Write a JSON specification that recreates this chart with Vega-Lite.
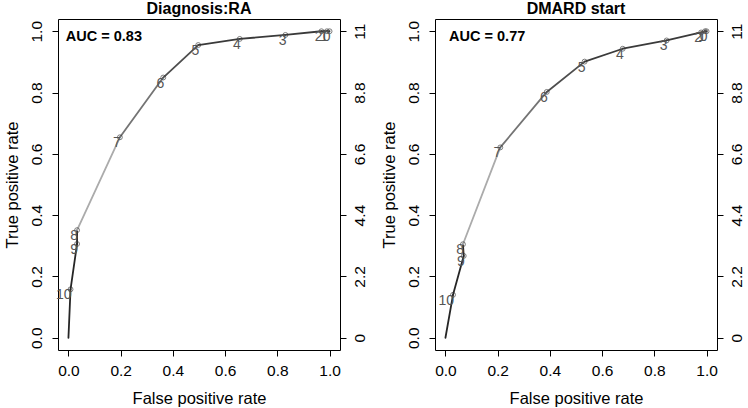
{
  "$schema": "https://vega.github.io/schema/vega-lite/v6.json",
  "padding": {"left": 3, "top": 0, "right": 0, "bottom": 0},
  "spacing": 12,
  "config": {
    "font": "Liberation Sans",
    "view": {"stroke": "black", "strokeWidth": 1},
    "axis": {"grid": false, "domain": false, "tickColor": "black", "tickSize": 6, "labelColor": "black", "titleColor": "black", "titleFontWeight": "normal", "labelFontSize": 15.5, "titleFontSize": 16.5, "labelFont": "Liberation Sans", "titleFont": "Liberation Sans"},
    "title": {"font": "Liberation Sans", "fontSize": 16, "fontWeight": "bold", "color": "black", "offset": 2}
  },
  "datasets": {
    "pts": [
      {"panel": "Diagnosis:RA", "fpr": 0.008, "tpr": 0.158, "cut": "10"},
      {"panel": "Diagnosis:RA", "fpr": 0.033, "tpr": 0.306, "cut": "9"},
      {"panel": "Diagnosis:RA", "fpr": 0.033, "tpr": 0.351, "cut": "8"},
      {"panel": "Diagnosis:RA", "fpr": 0.197, "tpr": 0.654, "cut": "7"},
      {"panel": "Diagnosis:RA", "fpr": 0.363, "tpr": 0.849, "cut": "6"},
      {"panel": "Diagnosis:RA", "fpr": 0.497, "tpr": 0.955, "cut": "5"},
      {"panel": "Diagnosis:RA", "fpr": 0.656, "tpr": 0.975, "cut": "4"},
      {"panel": "Diagnosis:RA", "fpr": 0.831, "tpr": 0.988, "cut": "3"},
      {"panel": "Diagnosis:RA", "fpr": 0.969, "tpr": 1.0, "cut": "2"},
      {"panel": "Diagnosis:RA", "fpr": 0.99, "tpr": 1.0, "cut": "1"},
      {"panel": "Diagnosis:RA", "fpr": 1.0, "tpr": 1.0, "cut": "0"},
      {"panel": "DMARD start", "fpr": 0.029, "tpr": 0.14, "cut": "10"},
      {"panel": "DMARD start", "fpr": 0.07, "tpr": 0.267, "cut": "9"},
      {"panel": "DMARD start", "fpr": 0.067, "tpr": 0.305, "cut": "8"},
      {"panel": "DMARD start", "fpr": 0.21, "tpr": 0.621, "cut": "7"},
      {"panel": "DMARD start", "fpr": 0.388, "tpr": 0.802, "cut": "6"},
      {"panel": "DMARD start", "fpr": 0.533, "tpr": 0.901, "cut": "5"},
      {"panel": "DMARD start", "fpr": 0.679, "tpr": 0.943, "cut": "4"},
      {"panel": "DMARD start", "fpr": 0.847, "tpr": 0.97, "cut": "3"},
      {"panel": "DMARD start", "fpr": 0.979, "tpr": 0.996, "cut": "2"},
      {"panel": "DMARD start", "fpr": 0.994, "tpr": 1.0, "cut": "1"},
      {"panel": "DMARD start", "fpr": 1.0, "tpr": 1.0, "cut": "0"}
    ],
    "segs": [
      {"panel": "Diagnosis:RA", "fpr": 0.0, "tpr": 0.0, "fpr2": 0.008, "tpr2": 0.158, "cut": 10.5},
      {"panel": "Diagnosis:RA", "fpr": 0.008, "tpr": 0.158, "fpr2": 0.033, "tpr2": 0.306, "cut": 9.5},
      {"panel": "Diagnosis:RA", "fpr": 0.033, "tpr": 0.306, "fpr2": 0.033, "tpr2": 0.351, "cut": 8.5},
      {"panel": "Diagnosis:RA", "fpr": 0.033, "tpr": 0.351, "fpr2": 0.197, "tpr2": 0.654, "cut": 7.5},
      {"panel": "Diagnosis:RA", "fpr": 0.197, "tpr": 0.654, "fpr2": 0.363, "tpr2": 0.849, "cut": 6.5},
      {"panel": "Diagnosis:RA", "fpr": 0.363, "tpr": 0.849, "fpr2": 0.497, "tpr2": 0.955, "cut": 5.5},
      {"panel": "Diagnosis:RA", "fpr": 0.497, "tpr": 0.955, "fpr2": 0.656, "tpr2": 0.975, "cut": 4.5},
      {"panel": "Diagnosis:RA", "fpr": 0.656, "tpr": 0.975, "fpr2": 0.831, "tpr2": 0.988, "cut": 3.5},
      {"panel": "Diagnosis:RA", "fpr": 0.831, "tpr": 0.988, "fpr2": 0.969, "tpr2": 1.0, "cut": 2.5},
      {"panel": "Diagnosis:RA", "fpr": 0.969, "tpr": 1.0, "fpr2": 0.99, "tpr2": 1.0, "cut": 1.5},
      {"panel": "Diagnosis:RA", "fpr": 0.99, "tpr": 1.0, "fpr2": 1.0, "tpr2": 1.0, "cut": 0.5},
      {"panel": "DMARD start", "fpr": 0.0, "tpr": 0.0, "fpr2": 0.029, "tpr2": 0.14, "cut": 10.5},
      {"panel": "DMARD start", "fpr": 0.029, "tpr": 0.14, "fpr2": 0.07, "tpr2": 0.267, "cut": 9.5},
      {"panel": "DMARD start", "fpr": 0.07, "tpr": 0.267, "fpr2": 0.067, "tpr2": 0.305, "cut": 8.5},
      {"panel": "DMARD start", "fpr": 0.067, "tpr": 0.305, "fpr2": 0.21, "tpr2": 0.621, "cut": 7.5},
      {"panel": "DMARD start", "fpr": 0.21, "tpr": 0.621, "fpr2": 0.388, "tpr2": 0.802, "cut": 6.5},
      {"panel": "DMARD start", "fpr": 0.388, "tpr": 0.802, "fpr2": 0.533, "tpr2": 0.901, "cut": 5.5},
      {"panel": "DMARD start", "fpr": 0.533, "tpr": 0.901, "fpr2": 0.679, "tpr2": 0.943, "cut": 4.5},
      {"panel": "DMARD start", "fpr": 0.679, "tpr": 0.943, "fpr2": 0.847, "tpr2": 0.97, "cut": 3.5},
      {"panel": "DMARD start", "fpr": 0.847, "tpr": 0.97, "fpr2": 0.979, "tpr2": 0.996, "cut": 2.5},
      {"panel": "DMARD start", "fpr": 0.979, "tpr": 0.996, "fpr2": 0.994, "tpr2": 1.0, "cut": 1.5},
      {"panel": "DMARD start", "fpr": 0.994, "tpr": 1.0, "fpr2": 1.0, "tpr2": 1.0, "cut": 0.5}
    ],
    "auc": [
      {"panel": "Diagnosis:RA", "label": "AUC = 0.83"},
      {"panel": "DMARD start", "label": "AUC = 0.77"}
    ]
  },
  "hconcat": [
    {
      "title": "Diagnosis:RA",
      "width": 282,
      "height": 331,
      "resolve": {"scale": {"y": "independent"}, "axis": {"y": "independent"}},
      "layer": [
        {
          "layer": [
            {
              "data": {"name": "segs"},
              "transform": [{"filter": "datum.panel === 'Diagnosis:RA'"}],
              "mark": {"type": "rule", "strokeWidth": 1.8, "strokeCap": "round"},
              "encoding": {
                "x": {"field": "fpr", "type": "quantitative", "scale": {"domain": [-0.04, 1.04], "nice": false, "zero": false}, "axis": {"values": [0, 0.2, 0.4, 0.6, 0.8, 1.0], "format": ".1f", "title": "False positive rate", "labelPadding": 7, "titlePadding": 12}},
                "y": {"field": "tpr", "type": "quantitative", "scale": {"domain": [-0.04, 1.04], "nice": false, "zero": false}, "axis": {"values": [0, 0.2, 0.4, 0.6, 0.8, 1.0], "format": ".1f", "title": "True positive rate", "labelAngle": -90, "labelAlign": "center", "labelBaseline": "bottom", "labelPadding": 8, "titlePadding": 9}},
                "x2": {"field": "fpr2"},
                "y2": {"field": "tpr2"},
                "color": {"field": "cut", "type": "quantitative", "legend": null, "scale": {"type": "linear", "domain": [0.5, 4.5, 5.5, 6.5, 7.5, 8.5, 10.5], "range": ["#3a3a3a", "#3a3a3a", "#4e4e4e", "#747474", "#ababab", "#262626", "#262626"]}}
              }
            },
            {
              "data": {"name": "pts"},
              "transform": [{"filter": "datum.panel === 'Diagnosis:RA'"}],
              "mark": {"type": "point", "shape": "circle", "filled": false, "size": 24, "strokeWidth": 0.9, "color": "#333"},
              "encoding": {
                "x": {"field": "fpr", "type": "quantitative"},
                "y": {"field": "tpr", "type": "quantitative"}
              }
            },
            {
              "data": {"name": "pts"},
              "transform": [{"filter": "datum.panel === 'Diagnosis:RA'"}],
              "mark": {"type": "text", "align": "right", "baseline": "top", "dx": 1, "dy": -1, "fontSize": 14, "color": "#555"},
              "encoding": {
                "x": {"field": "fpr", "type": "quantitative"},
                "y": {"field": "tpr", "type": "quantitative"},
                "text": {"field": "cut"}
              }
            },
            {
              "data": {"name": "auc"},
              "transform": [{"filter": "datum.panel === 'Diagnosis:RA'"}],
              "mark": {"type": "text", "align": "left", "baseline": "middle", "fontSize": 14.5, "fontWeight": "bold", "color": "black"},
              "encoding": {
                "x": {"datum": -0.01, "type": "quantitative"},
                "y": {"datum": 0.981, "type": "quantitative"},
                "text": {"field": "label"}
              }
            }
          ]
        },
        {
          "mark": {"type": "rule", "strokeWidth": 3, "color": "#2a2a2a"},
          "encoding": {
            "x": {"datum": 1.035, "type": "quantitative"},
            "y": {"datum": 0, "type": "quantitative", "scale": {"domain": [-0.44, 11.44], "nice": false, "zero": false}, "axis": {"orient": "right", "values": [0, 2.2, 4.4, 6.6, 8.8, 11], "labelExpr": "datum.value == 0 ? '0' : (datum.value == 11 ? '11' : format(datum.value, '.1f'))", "title": null, "labelAngle": -90, "labelAlign": "center", "labelBaseline": "top", "labelPadding": 6}},
            "y2": {"datum": 11}
          }
        }
      ]
    },
    {
      "title": "DMARD start",
      "width": 282,
      "height": 331,
      "resolve": {"scale": {"y": "independent"}, "axis": {"y": "independent"}},
      "layer": [
        {
          "layer": [
            {
              "data": {"name": "segs"},
              "transform": [{"filter": "datum.panel === 'DMARD start'"}],
              "mark": {"type": "rule", "strokeWidth": 1.8, "strokeCap": "round"},
              "encoding": {
                "x": {"field": "fpr", "type": "quantitative", "scale": {"domain": [-0.04, 1.04], "nice": false, "zero": false}, "axis": {"values": [0, 0.2, 0.4, 0.6, 0.8, 1.0], "format": ".1f", "title": "False positive rate", "labelPadding": 7, "titlePadding": 12}},
                "y": {"field": "tpr", "type": "quantitative", "scale": {"domain": [-0.04, 1.04], "nice": false, "zero": false}, "axis": {"values": [0, 0.2, 0.4, 0.6, 0.8, 1.0], "format": ".1f", "title": "True positive rate", "labelAngle": -90, "labelAlign": "center", "labelBaseline": "bottom", "labelPadding": 8, "titlePadding": 9}},
                "x2": {"field": "fpr2"},
                "y2": {"field": "tpr2"},
                "color": {"field": "cut", "type": "quantitative", "legend": null, "scale": {"type": "linear", "domain": [0.5, 4.5, 5.5, 6.5, 7.5, 8.5, 10.5], "range": ["#3a3a3a", "#3a3a3a", "#4e4e4e", "#6a6a6a", "#ababab", "#262626", "#262626"]}}
              }
            },
            {
              "data": {"name": "pts"},
              "transform": [{"filter": "datum.panel === 'DMARD start'"}],
              "mark": {"type": "point", "shape": "circle", "filled": false, "size": 24, "strokeWidth": 0.9, "color": "#333"},
              "encoding": {
                "x": {"field": "fpr", "type": "quantitative"},
                "y": {"field": "tpr", "type": "quantitative"}
              }
            },
            {
              "data": {"name": "pts"},
              "transform": [{"filter": "datum.panel === 'DMARD start'"}],
              "mark": {"type": "text", "align": "right", "baseline": "top", "dx": 1, "dy": -1, "fontSize": 14, "color": "#555"},
              "encoding": {
                "x": {"field": "fpr", "type": "quantitative"},
                "y": {"field": "tpr", "type": "quantitative"},
                "text": {"field": "cut"}
              }
            },
            {
              "data": {"name": "auc"},
              "transform": [{"filter": "datum.panel === 'DMARD start'"}],
              "mark": {"type": "text", "align": "left", "baseline": "middle", "fontSize": 14.5, "fontWeight": "bold", "color": "black"},
              "encoding": {
                "x": {"datum": 0.014, "type": "quantitative"},
                "y": {"datum": 0.981, "type": "quantitative"},
                "text": {"field": "label"}
              }
            }
          ]
        },
        {
          "mark": {"type": "rule", "strokeWidth": 3, "color": "#2a2a2a"},
          "encoding": {
            "x": {"datum": 1.035, "type": "quantitative"},
            "y": {"datum": 0, "type": "quantitative", "scale": {"domain": [-0.44, 11.44], "nice": false, "zero": false}, "axis": {"orient": "right", "values": [0, 2.2, 4.4, 6.6, 8.8, 11], "labelExpr": "datum.value == 0 ? '0' : (datum.value == 11 ? '11' : format(datum.value, '.1f'))", "title": null, "labelAngle": -90, "labelAlign": "center", "labelBaseline": "top", "labelPadding": 6}},
            "y2": {"datum": 11}
          }
        }
      ]
    }
  ]
}
